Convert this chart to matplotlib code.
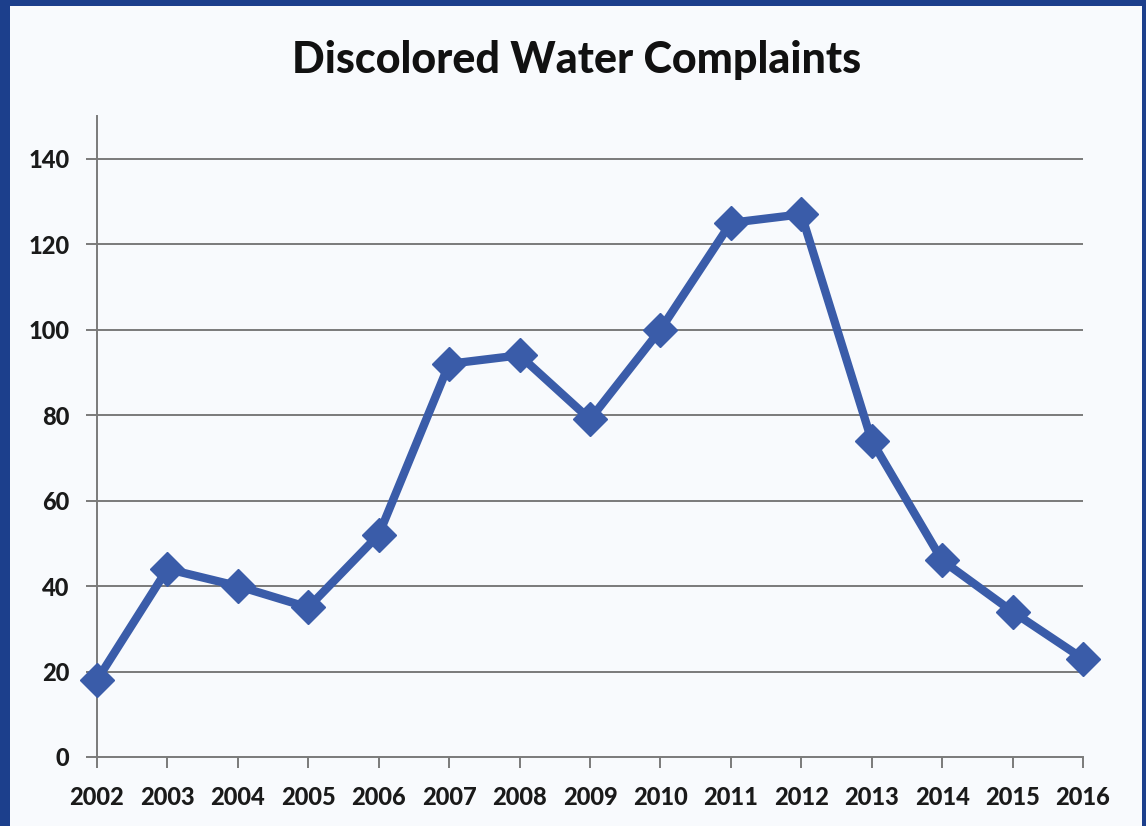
import matplotlib.pyplot as plt
from matplotlib.patches import Rectangle

years = ["2002", "2003", "2004", "2005", "2006", "2007", "2008", "2009",
         "2010", "2011", "2012", "2013", "2014", "2015", "2016"]
complaints = [18, 44, 40, 35, 52, 92, 94, 79, 100, 125, 127, 74, 46, 34, 23]
y_ticks = [0, 20, 40, 60, 80, 100, 120, 140]

plt.rcParams['font.family'] = ['Lato', 'DejaVu Sans']

fig = plt.figure(figsize=(11.46, 8.26), dpi=100)
fig.patch.set_facecolor("#f8fafd")

# blue frame around the slide
fig.patches.append(Rectangle((0, 0), 10 / 1146, 1, transform=fig.transFigure,
                             facecolor="#1c3f8c", edgecolor="none"))
fig.patches.append(Rectangle((0, 1 - 6 / 826), 1, 6 / 826, transform=fig.transFigure,
                             facecolor="#1c3f8c", edgecolor="none"))
fig.patches.append(Rectangle((1 - 4 / 1146, 0), 4 / 1146, 1, transform=fig.transFigure,
                             facecolor="#1c3f8c", edgecolor="none"))

ax = fig.add_axes([97 / 1146, 1 - 757 / 826, (1083 - 97) / 1146, (757 - 116) / 826])
ax.set_facecolor("none")

x = list(range(len(years)))
for t in y_ticks[1:]:
    ax.axhline(t, color="#7a7a7a", linewidth=1.4, zorder=1)

ax.plot(x, complaints, color="#3a5ca9", linewidth=6, marker="D", markersize=17.5,
        zorder=3, clip_on=False)

ax.set_xlim(0, len(years) - 1)
ax.set_ylim(0, 150)
ax.set_xticks(x)
ax.set_xticklabels(years)
ax.set_yticks(y_ticks)

for s in ["top", "right"]:
    ax.spines[s].set_visible(False)
for s in ["left", "bottom"]:
    ax.spines[s].set_color("#7a7a7a")
    ax.spines[s].set_linewidth(1.4)

ax.tick_params(axis="both", colors="#7a7a7a", width=1.4, length=8, labelsize=17)
for lab in ax.get_xticklabels() + ax.get_yticklabels():
    lab.set_fontweight("black")
    lab.set_color("#1a1a1a")
ax.tick_params(axis="x", pad=13)
ax.tick_params(axis="y", pad=12)

fig.text(577 / 1146, 1 - 60 / 826, "Discolored Water Complaints", ha="center", va="center",
         fontsize=31, fontweight="black", color="#111111")

fig.savefig("out.png", dpi=100, facecolor=fig.get_facecolor())
